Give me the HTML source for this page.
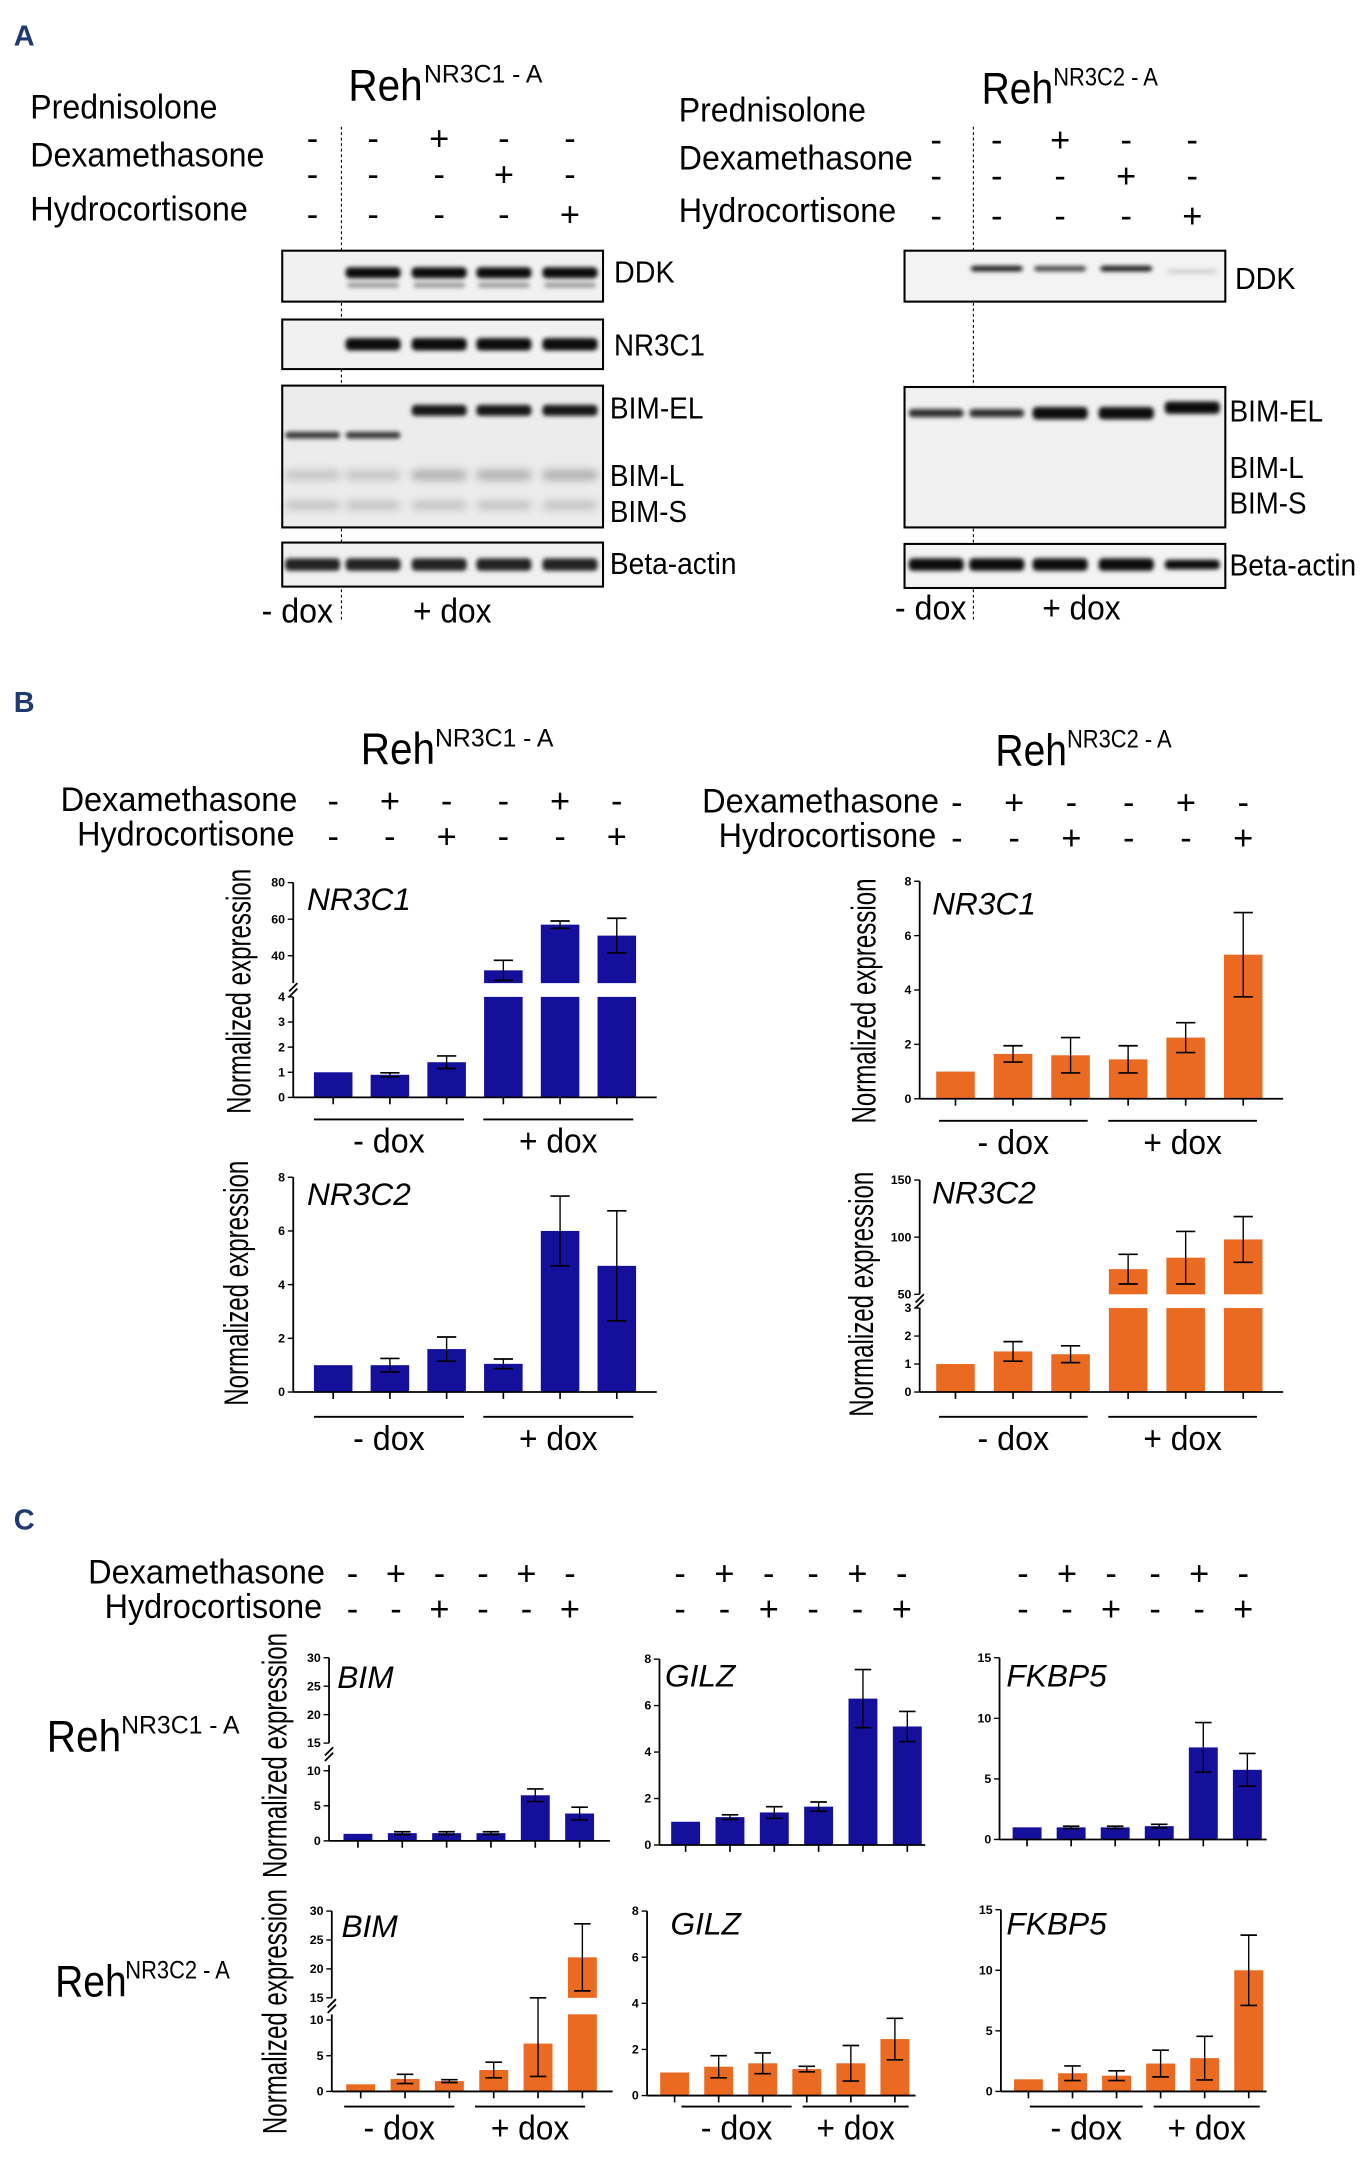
<!DOCTYPE html>
<html><head><meta charset="utf-8"><style>
html,body{margin:0;padding:0;background:#fff}
svg{display:block}
text{font-family:"Liberation Sans",sans-serif}
.lbl{font-size:25px}
.tk{font-size:9px;font-weight:bold}
.ttl{font-size:23px;font-style:italic}
.sec{font-size:21px;font-weight:bold;fill:#1f3a6e}
.band{font-size:22px}
</style></head><body>
<svg id="fig" width="1363" height="2159" viewBox="0 0 990 1568" xmlns="http://www.w3.org/2000/svg">
<defs><filter id="blur" x="-20%" y="-200%" width="140%" height="500%"><feGaussianBlur stdDeviation="1.6"/></filter>
<filter id="blur2" x="-20%" y="-200%" width="140%" height="500%"><feGaussianBlur stdDeviation="3"/></filter></defs>

<text class="sec" x="10" y="33">A</text>
<text class="sec" x="10" y="517">B</text>
<text class="sec" x="10" y="1111">C</text>

<g>
<text x="253" y="73" font-size="32" textLength="54" lengthAdjust="spacingAndGlyphs">Reh</text>
<text x="308" y="60" font-size="18" textLength="86" lengthAdjust="spacingAndGlyphs">NR3C1 - A</text>
<text class="lbl" x="22" y="86" textLength="136" lengthAdjust="spacingAndGlyphs">Prednisolone</text>
<text class="lbl" x="22" y="121" textLength="170" lengthAdjust="spacingAndGlyphs">Dexamethasone</text>
<text class="lbl" x="22" y="160" textLength="158" lengthAdjust="spacingAndGlyphs">Hydrocortisone</text>
<line x1="248" y1="92" x2="248" y2="452" stroke="#000" stroke-width="0.8" stroke-dasharray="2,2"/>
<g id="aLeftSigns"></g>
<rect x="205" y="182" width="233" height="37" fill="#f1f1f1" stroke="#000" stroke-width="1.5"/>
<rect x="205" y="232" width="233" height="36" fill="#f1f1f1" stroke="#000" stroke-width="1.5"/>
<rect x="205" y="280" width="233" height="103" fill="#ececec" stroke="#000" stroke-width="1.5"/>
<rect x="205" y="394" width="233" height="32" fill="#f0f0f0" stroke="#000" stroke-width="1.5"/>
<g id="aLeftBands"></g>
<text class="band" x="446" y="205" textLength="44" lengthAdjust="spacingAndGlyphs">DDK</text>
<text class="band" x="446" y="258" textLength="66" lengthAdjust="spacingAndGlyphs">NR3C1</text>
<text class="band" x="443" y="304" textLength="68" lengthAdjust="spacingAndGlyphs">BIM-EL</text>
<text class="band" x="443" y="353" textLength="54" lengthAdjust="spacingAndGlyphs">BIM-L</text>
<text class="band" x="443" y="379" textLength="56" lengthAdjust="spacingAndGlyphs">BIM-S</text>
<text class="band" x="443" y="417" textLength="92" lengthAdjust="spacingAndGlyphs">Beta-actin</text>
<text class="lbl" x="190" y="452" textLength="52" lengthAdjust="spacingAndGlyphs">- dox</text>
<text class="lbl" x="300" y="452" textLength="57" lengthAdjust="spacingAndGlyphs">+ dox</text>
</g>

<g>
<text x="713" y="75" font-size="32" textLength="52" lengthAdjust="spacingAndGlyphs">Reh</text>
<text x="765" y="62" font-size="18" textLength="76" lengthAdjust="spacingAndGlyphs">NR3C2 - A</text>
<text class="lbl" x="493" y="88" textLength="136" lengthAdjust="spacingAndGlyphs">Prednisolone</text>
<text class="lbl" x="493" y="123" textLength="170" lengthAdjust="spacingAndGlyphs">Dexamethasone</text>
<text class="lbl" x="493" y="161" textLength="158" lengthAdjust="spacingAndGlyphs">Hydrocortisone</text>
<line x1="707" y1="92" x2="707" y2="452" stroke="#000" stroke-width="0.8" stroke-dasharray="2,2"/>
<g id="aRightSigns"></g>
<rect x="657" y="182" width="233" height="37" fill="#f3f3f3" stroke="#000" stroke-width="1.5"/>
<rect x="657" y="281" width="233" height="102" fill="#f0f0f0" stroke="#000" stroke-width="1.5"/>
<rect x="657" y="395" width="233" height="32" fill="#f3f3f3" stroke="#000" stroke-width="1.5"/>
<g id="aRightBands"></g>
<text class="band" x="897" y="210" textLength="44" lengthAdjust="spacingAndGlyphs">DDK</text>
<text class="band" x="893" y="306" textLength="68" lengthAdjust="spacingAndGlyphs">BIM-EL</text>
<text class="band" x="893" y="347" textLength="54" lengthAdjust="spacingAndGlyphs">BIM-L</text>
<text class="band" x="893" y="373" textLength="56" lengthAdjust="spacingAndGlyphs">BIM-S</text>
<text class="band" x="893" y="418" textLength="92" lengthAdjust="spacingAndGlyphs">Beta-actin</text>
<text class="lbl" x="650" y="450" textLength="52" lengthAdjust="spacingAndGlyphs">- dox</text>
<text class="lbl" x="757" y="450" textLength="57" lengthAdjust="spacingAndGlyphs">+ dox</text>
</g>

<text x="262" y="555" font-size="32" textLength="54" lengthAdjust="spacingAndGlyphs">Reh</text>
<text x="316" y="542" font-size="18" textLength="86" lengthAdjust="spacingAndGlyphs">NR3C1 - A</text>
<text x="723" y="556" font-size="32" textLength="52" lengthAdjust="spacingAndGlyphs">Reh</text>
<text x="775" y="543" font-size="18" textLength="76" lengthAdjust="spacingAndGlyphs">NR3C2 - A</text>
<text class="lbl" x="44" y="589" textLength="172" lengthAdjust="spacingAndGlyphs">Dexamethasone</text>
<text class="lbl" x="56" y="614" textLength="158" lengthAdjust="spacingAndGlyphs">Hydrocortisone</text>
<text class="lbl" x="510" y="590" textLength="172" lengthAdjust="spacingAndGlyphs">Dexamethasone</text>
<text class="lbl" x="522" y="615" textLength="158" lengthAdjust="spacingAndGlyphs">Hydrocortisone</text>

<text class="lbl" x="64" y="1150" textLength="172" lengthAdjust="spacingAndGlyphs">Dexamethasone</text>
<text class="lbl" x="76" y="1175" textLength="158" lengthAdjust="spacingAndGlyphs">Hydrocortisone</text>
<text x="34" y="1272" font-size="32" textLength="54" lengthAdjust="spacingAndGlyphs">Reh</text>
<text x="88" y="1259" font-size="18" textLength="86" lengthAdjust="spacingAndGlyphs">NR3C1 - A</text>
<text x="40" y="1450" font-size="32" textLength="52" lengthAdjust="spacingAndGlyphs">Reh</text>
<text x="91" y="1437" font-size="18" textLength="76" lengthAdjust="spacingAndGlyphs">NR3C2 - A</text>
<text class="lbl" transform="translate(208,1275) rotate(-90)" text-anchor="middle" textLength="178" lengthAdjust="spacingAndGlyphs">Normalized expression</text>
<text class="lbl" transform="translate(208,1461) rotate(-90)" text-anchor="middle" textLength="178" lengthAdjust="spacingAndGlyphs">Normalized expression</text>

<g id="charts"></g>
</svg>
<script>
const categories = ["ctrl","dex","hc","dox-ctrl","dox-dex","dox-hc"];
const dexSigns = ["-","+","-","-","+","-"];
const hcSigns  = ["-","-","+","-","-","+"];
const wbPred = ["-","-","+","-","-"];
const wbDex  = ["-","-","-","+","-"];
const wbHc   = ["-","-","-","-","+"];

const b1Vals = [1, 0.9, 1.4, 32, 57, 51];
const b1Errs = [0, 0.08, 0.25, 5.5, 2, 9.5];
const b1Ticks = [0,1,2,3,4,40,60,80];
const b2Vals = [1, 1, 1.6, 1.05, 6, 4.7];
const b2Errs = [0, 0.25, 0.45, 0.18, 1.3, 2.05];
const b2Ticks = [0,2,4,6,8];
const b3Vals = [1, 1.65, 1.6, 1.45, 2.25, 5.3];
const b3Errs = [0, 0.3, 0.65, 0.5, 0.55, 1.55];
const b3Ticks = [0,2,4,6,8];
const b4Vals = [1, 1.45, 1.35, 72, 82, 98];
const b4Errs = [0, 0.35, 0.3, 13, 23, 20];
const b4Ticks = [0,1,2,3,50,100,150];

const c11Vals = [1, 1.1, 1.1, 1.1, 6.5, 3.9];
const c11Errs = [0, 0.2, 0.2, 0.2, 0.9, 0.9];
const c12Vals = [1, 1.2, 1.4, 1.65, 6.3, 5.1];
const c12Errs = [0, 0.1, 0.25, 0.2, 1.25, 0.65];
const c13Vals = [1, 1.0, 1.0, 1.1, 7.6, 5.75];
const c13Errs = [0, 0.1, 0.1, 0.15, 2.05, 1.35];
const c21Vals = [1, 1.75, 1.45, 3.0, 6.7, 22];
const c21Errs = [0, 0.65, 0.2, 1.1, 4.6, 5.8];
const c22Vals = [1, 1.25, 1.4, 1.15, 1.4, 2.45];
const c22Errs = [0, 0.48, 0.45, 0.12, 0.77, 0.9];
const c23Vals = [1, 1.5, 1.3, 2.3, 2.75, 10];
const c23Errs = [0, 0.6, 0.4, 1.1, 1.8, 2.9];
const bimTicks = [0,5,10,15,20,25,30];
const gilzTicks = [0,2,4,6,8];
const fkbpTicks = [0,5,10,15];

const NS = "http://www.w3.org/2000/svg";
const BLUE = "#15109c", ORANGE = "#eb6a22";
function mk(tag, attrs, parent, txt){
  const e = document.createElementNS(NS, tag);
  for (const k in attrs) e.setAttribute(k, attrs[k]);
  if (txt !== undefined) e.textContent = txt;
  parent.appendChild(e); return e;
}
const root = document.getElementById("charts");

function mapY(segs, v){
  for (const s of segs) if (v <= s.v1) return s.yb - (Math.max(v, s.v0) - s.v0) * (s.yb - s.yt) / (s.v1 - s.v0);
  const s = segs[segs.length-1];
  return s.yb - (v - s.v0) * (s.yb - s.yt) / (s.v1 - s.v0);
}

function chart(name, cfg, vals, errs, ticks, color){
  const g = mk("g", {}, root);
  
  
  const segs = cfg.segs, y0 = segs[0].yb;
  vals.forEach((v, i) => {
    const cx = cfg.x0 + i * cfg.dx;
    segs.forEach(s => {
      if (v > s.v0) {
        const top = (s === segs[segs.length-1]) ? v : Math.min(v, s.v1);
        const yt = mapY([s], top), yb = s.yb;
        const r = mk("rect", {x: cx - cfg.bw/2, y: yt, width: cfg.bw, height: yb - yt, fill: color}, g);
        
        
      }
    });
    const e = errs[i];
    if (e > 0) {
      const ya = mapY(segs, v + e), yb2 = mapY(segs, v - e);
      mk("line", {x1: cx, y1: ya, x2: cx, y2: yb2, stroke: "#000", "stroke-width": 1}, g);
      mk("line", {x1: cx - cfg.cap, y1: ya, x2: cx + cfg.cap, y2: ya, stroke: "#000", "stroke-width": 1.2}, g);
      mk("line", {x1: cx - cfg.cap, y1: yb2, x2: cx + cfg.cap, y2: yb2, stroke: "#000", "stroke-width": 1.2}, g);
    }
    mk("line", {x1: cx, y1: y0, x2: cx, y2: y0 + 5, stroke: "#000", "stroke-width": 1.2}, g);
  });
  mk("line", {x1: cfg.ax, y1: y0, x2: cfg.xEnd, y2: y0, stroke: "#000", "stroke-width": 1.3}, g);
  segs.forEach(s => mk("line", {x1: cfg.ax, y1: s.yb, x2: cfg.ax, y2: s.yt, stroke: "#000", "stroke-width": 1.3}, g));
  if (segs.length > 1) {
    const ym = (segs[0].yt + segs[1].yb) / 2;
    mk("line", {x1: cfg.ax - 3, y1: ym + 5, x2: cfg.ax + 3, y2: ym - 1, stroke: "#000", "stroke-width": 1.3}, g);
    mk("line", {x1: cfg.ax - 3, y1: ym + 1, x2: cfg.ax + 3, y2: ym - 5, stroke: "#000", "stroke-width": 1.3}, g);
  }
  ticks.forEach(t => {
    const y = mapY(segs, t);
    mk("line", {x1: cfg.ax - 4, y1: y, x2: cfg.ax, y2: y, stroke: "#000", "stroke-width": 1}, g);
    const tl = mk("text", {x: cfg.ax - 6, y: y + 3, "text-anchor": "end", class: "tk", "font-size": cfg.tf}, g, String(t));
    
    
  });
  const tt = mk("text", {x: cfg.tx, y: cfg.ty, class: "ttl"}, g, cfg.title);
  
  
  if (cfg.ylab) {
    const yl = mk("text", {transform: `translate(${cfg.ylab[0]},${cfg.ylab[1]}) rotate(-90)`, "text-anchor": "middle", class: "lbl", "font-size": 21, textLength: 178, lengthAdjust: "spacingAndGlyphs"}, g, "Normalized expression");
    
    
  }
  if (cfg.dox) {
    const d = cfg.dox;
    mk("line", {x1: d[0], y1: d[4], x2: d[1], y2: d[4], stroke: "#000", "stroke-width": 1.3}, g);
    mk("line", {x1: d[2], y1: d[4], x2: d[3], y2: d[4], stroke: "#000", "stroke-width": 1.3}, g);
    const a = mk("text", {x: (d[0]+d[1])/2, y: d[4] + 24, "text-anchor": "middle", class: "lbl", textLength: 52, lengthAdjust: "spacingAndGlyphs"}, g, "- dox");
    
    
    const b = mk("text", {x: (d[2]+d[3])/2, y: d[4] + 24, "text-anchor": "middle", class: "lbl", textLength: 57, lengthAdjust: "spacingAndGlyphs"}, g, "+ dox");
    
    
  }
}

function signs(parent, x0, dx, arr, y, fs){
  arr.forEach((s, i) => {
    const t = mk("text", {x: x0 + i * dx, y: y, "text-anchor": "middle", "font-size": fs}, parent, s);
    
    
  });
}

const aL = document.getElementById("aLeftSigns"), aR = document.getElementById("aRightSigns");
const lanesL = [227, 271, 319, 366, 414], lanesR = [680, 724, 770, 818, 866];
[[wbPred,109],[wbDex,135],[wbHc,164]].forEach(([arr,y]) => {
  arr.forEach((s,i)=>{ mk("text",{x:lanesL[i],y:y,"text-anchor":"middle","font-size":25},aL,s); mk("text",{x:lanesR[i],y:y+1,"text-anchor":"middle","font-size":25},aR,s); });
});
function band(parent, cx, y, w, h, op, f){ mk("rect",{x:cx-w/2,y:y-h/2,width:w,height:h,rx:3,fill:"#000","fill-opacity":op,filter:f||"url(#blur)"},parent); }
const bl = document.getElementById("aLeftBands"), br = document.getElementById("aRightBands");
lanesL.forEach((cx,i)=>{
  if (i>0){ band(bl,cx,198,40,8,0.95); band(bl,cx,207,38,4,0.35); band(bl,cx,250,40,9,0.95); }
  band(bl,cx,i<2?316:298,40,i<2?5:8,i<2?0.75:0.9);
  band(bl,cx,345,40,7,i<2?0.18:0.28,"url(#blur2)");
  band(bl,cx,367,40,6,0.2,"url(#blur2)");
  band(bl,cx,410,40,9,0.85);
});
lanesR.forEach((cx,i)=>{
  if (i>0 && i<4) band(br,cx,195,38,4,[0,0.9,0.7,0.9][i]);
  if (i===4) band(br,cx,197,36,4,0.12);
  band(br,cx,i===4?296:300,40,i<2?6:9,i<2?0.8:0.95);
  band(br,cx,410,40,i===4?7:9,0.95);
});

const sg = mk("g", {}, root);
signs(sg, 242, 41.2, dexSigns, 590, 25); signs(sg, 242, 41.2, hcSigns, 616, 25);
signs(sg, 695, 41.6, dexSigns, 591, 25); signs(sg, 695, 41.6, hcSigns, 617, 25);
signs(sg, 256, 31.6, dexSigns, 1151, 25); signs(sg, 256, 31.6, hcSigns, 1177, 25);
signs(sg, 494, 32.2, dexSigns, 1151, 25); signs(sg, 494, 32.2, hcSigns, 1177, 25);
signs(sg, 743, 32, dexSigns, 1151, 25); signs(sg, 743, 32, hcSigns, 1177, 25);

chart("chart-b-nr3c1-nr3c1", {ax:213,xEnd:477,x0:242,dx:41.2,bw:28,cap:7,tf:9,
  segs:[{v0:0,v1:4,yb:797,yt:724},{v0:25,v1:80,yb:714,yt:641}],title:"NR3C1",tx:223,ty:661,ylab:[182,720],dox:[228,337,351,460,813]}, b1Vals, b1Errs, b1Ticks, BLUE);
chart("chart-b-nr3c1-nr3c2", {ax:213,xEnd:477,x0:242,dx:41.2,bw:28,cap:7,tf:9,
  segs:[{v0:0,v1:8,yb:1011,yt:855}],title:"NR3C2",tx:223,ty:875,ylab:[180,932],dox:[228,337,351,460,1029]}, b2Vals, b2Errs, b2Ticks, BLUE);
chart("chart-b-nr3c2-nr3c1", {ax:668,xEnd:932,x0:694,dx:41.8,bw:28,cap:7,tf:9,
  segs:[{v0:0,v1:8,yb:798,yt:640}],title:"NR3C1",tx:677,ty:664,ylab:[636,727],dox:[682,790,805,913,814]}, b3Vals, b3Errs, b3Ticks, ORANGE);
chart("chart-b-nr3c2-nr3c2", {ax:668,xEnd:932,x0:694,dx:41.8,bw:28,cap:7,tf:9,
  segs:[{v0:0,v1:3,yb:1011,yt:950},{v0:50,v1:150,yb:940,yt:857}],title:"NR3C2",tx:677,ty:874,ylab:[634,940],dox:[682,790,805,913,1029]}, b4Vals, b4Errs, b4Ticks, ORANGE);

chart("chart-c-nr3c1-bim", {ax:239,xEnd:443,x0:260,dx:32.2,bw:21,cap:6,tf:8,
  segs:[{v0:0,v1:10.8,yb:1337,yt:1282},{v0:15,v1:30,yb:1266,yt:1204}],title:"BIM",tx:245,ty:1226}, c11Vals, c11Errs, bimTicks, BLUE);
chart("chart-c-nr3c1-gilz", {ax:479,xEnd:672,x0:498,dx:32.2,bw:21,cap:6,tf:8,
  segs:[{v0:0,v1:8,yb:1340,yt:1205}],title:"GILZ",tx:483,ty:1225}, c12Vals, c12Errs, gilzTicks, BLUE);
chart("chart-c-nr3c1-fkbp5", {ax:726,xEnd:920,x0:746,dx:32,bw:21,cap:6,tf:8,
  segs:[{v0:0,v1:15,yb:1336,yt:1204}],title:"FKBP5",tx:731,ty:1225}, c13Vals, c13Errs, fkbpTicks, BLUE);
chart("chart-c-nr3c2-bim", {ax:241,xEnd:445,x0:262,dx:32.2,bw:21,cap:6,tf:8,
  segs:[{v0:0,v1:10.8,yb:1519,yt:1463},{v0:15,v1:30,yb:1451,yt:1388}],title:"BIM",tx:248,ty:1407,dox:[250,330,345,425,1530]}, c21Vals, c21Errs, bimTicks, ORANGE);
chart("chart-c-nr3c2-gilz", {ax:470,xEnd:665,x0:490,dx:32,bw:21,cap:6,tf:8,
  segs:[{v0:0,v1:8,yb:1522,yt:1388}],title:"GILZ",tx:487,ty:1405,dox:[495,575,583,660,1530]}, c22Vals, c22Errs, gilzTicks, ORANGE);
chart("chart-c-nr3c2-fkbp5", {ax:727,xEnd:920,x0:747,dx:32,bw:21,cap:6,tf:8,
  segs:[{v0:0,v1:15,yb:1519,yt:1387}],title:"FKBP5",tx:731,ty:1405,dox:[748,830,838,915,1530]}, c23Vals, c23Errs, fkbpTicks, ORANGE);
</script>
</body></html>
